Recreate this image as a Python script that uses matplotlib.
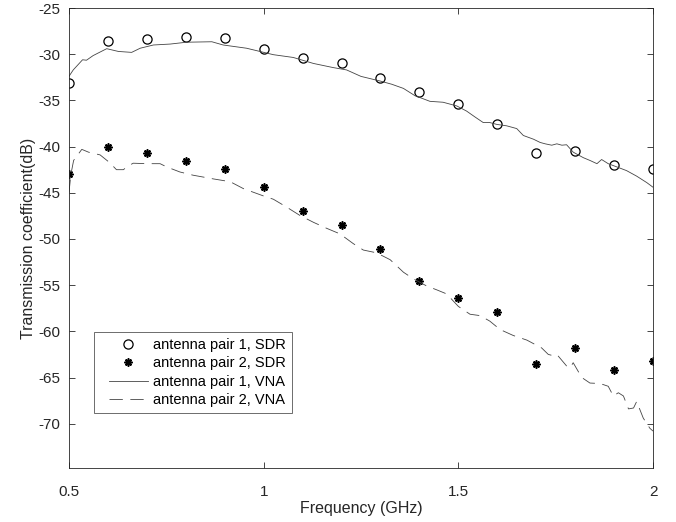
import numpy as np
import matplotlib

matplotlib.use("Agg")
import matplotlib.pyplot as plt
from matplotlib.lines import Line2D
from matplotlib.legend_handler import HandlerLine2D

plt.rcParams["font.family"] = ["Liberation Sans", "DejaVu Sans"]
plt.rcParams["font.size"] = 10.5
plt.rcParams["axes.unicode_minus"] = False

# SDR measurements (every 0.1 GHz)
f_sdr = [0.5, 0.6, 0.7, 0.8, 0.9, 1.0, 1.1, 1.2, 1.3, 1.4, 1.5, 1.6, 1.7, 1.8, 1.9, 2.0]
sdr_pair1 = [-33.1, -28.55, -28.3, -28.1, -28.2, -29.4, -30.4, -31.0,
             -32.6, -34.1, -35.4, -37.6, -40.65, -40.5, -42.0, -42.4]
sdr_pair2 = [-43.0, -40.0, -40.7, -41.55, -42.4, -44.35, -47.0, -48.5,
             -51.1, -54.5, -56.4, -57.9, -63.55, -61.85, -64.2, -63.2]

# VNA traces
f_vna1 = [0.5, 0.511, 0.535, 0.545, 0.562, 0.597, 0.627, 0.661, 0.683, 0.717,
          0.76, 0.802, 0.867, 0.896, 0.956, 1.025, 1.076, 1.128, 1.179, 1.213,
          1.25, 1.299, 1.329, 1.359, 1.389, 1.402, 1.427, 1.461, 1.496, 1.521,
          1.543, 1.564, 1.581, 1.599, 1.624, 1.65, 1.667, 1.693, 1.71, 1.723,
          1.74, 1.753, 1.766, 1.778, 1.795, 1.821, 1.838, 1.856, 1.868, 1.885,
          1.907, 1.932, 1.958, 1.984, 2.0]
vna_pair1 = [-32.4, -31.7, -30.6, -30.65, -30.15, -29.4, -29.7, -29.8, -29.35, -29.0,
             -28.9, -28.7, -28.65, -29.0, -29.35, -30.05, -30.35, -31.0, -31.45, -31.7,
             -32.4, -32.9, -33.25, -33.7, -34.5, -34.7, -35.1, -35.2, -35.6, -36.15,
             -36.8, -37.4, -37.4, -37.6, -37.75, -38.05, -38.8, -39.2, -39.55, -39.7,
             -39.85, -39.7, -39.85, -39.8, -40.6, -41.2, -41.5, -41.85, -41.4, -41.85,
             -42.2, -42.6, -43.2, -43.9, -44.4]

f_vna2 = [0.5, 0.505, 0.512, 0.533, 0.55, 0.58, 0.605, 0.622, 0.64, 0.648,
          0.665, 0.7, 0.734, 0.751, 0.785, 0.819, 0.871, 0.914, 0.948, 1.0,
          1.025, 1.059, 1.093, 1.128, 1.162, 1.196, 1.23, 1.256, 1.29, 1.325,
          1.359, 1.384, 1.419, 1.444, 1.47, 1.5, 1.53, 1.556, 1.581, 1.607,
          1.641, 1.676, 1.714, 1.731, 1.74, 1.753, 1.778, 1.787, 1.795, 1.817,
          1.838, 1.864, 1.885, 1.898, 1.911, 1.924, 1.937, 1.95, 1.958, 1.975,
          1.992, 2.0]
vna_pair2 = [-45.0, -43.0, -41.5, -40.3, -40.6, -40.9, -41.75, -42.5, -42.5, -42.2,
             -41.8, -41.85, -41.85, -42.2, -42.75, -43.1, -43.5, -43.8, -44.55, -45.35,
             -45.7, -46.55, -47.45, -48.2, -48.85, -49.45, -50.5, -51.2, -51.5, -52.25,
             -53.6, -54.3, -55.1, -55.5, -55.95, -57.3, -58.15, -58.3, -58.9, -59.8,
             -60.45, -60.95, -61.8, -62.5, -62.6, -62.5, -63.75, -63.95, -63.4, -65.0,
             -65.6, -65.65, -65.95, -67.0, -66.65, -67.0, -68.4, -68.3, -67.6, -69.4,
             -70.5, -70.8]

fig = plt.figure(figsize=(6.76, 5.22), dpi=100)
ax = fig.add_axes([0.102, 0.1034, 0.864, 0.8812])

ax.plot(f_sdr, sdr_pair1, linestyle="none", marker="o", markersize=6.6,
        markerfacecolor="none", markeredgecolor="black", markeredgewidth=0.9,
        label="antenna pair 1, SDR")
ax.plot(f_sdr, sdr_pair2, linestyle="none", marker=(8, 2, 0), markersize=5.8,
        color="black", markeredgewidth=1.2, label="antenna pair 2, SDR")
ax.plot(f_vna1, vna_pair1, color="#444444", linewidth=0.6,
        label="antenna pair 1, VNA")
ax.plot(f_vna2, vna_pair2, color="#444444", linewidth=0.6,
        dashes=(16, 9), label="antenna pair 2, VNA")

ax.set_xlim(0.5, 2.0)
ax.set_ylim(-74.8, -25)
ax.set_xticks([0.5, 1, 1.5, 2])
ax.set_xticklabels(["0.5", "1", "1.5", "2"])
ax.set_yticks(np.arange(-70, -24, 5))
ax.tick_params(direction="in", top=True, right=True, length=4, width=0.6,
               colors="#262626", labelsize=11)
ax.tick_params(axis="x", pad=12)
ax.tick_params(axis="y", pad=6)
for sp in ax.spines.values():
    sp.set_linewidth(0.6)
    sp.set_color("#262626")

ax.set_xlabel("Frequency (GHz)", fontsize=11.5, color="#262626", labelpad=2)
ax.set_ylabel("Transmission coefficient(dB)", fontsize=11.5, color="#262626",
              labelpad=2)

leg = ax.legend(loc="lower left", bbox_to_anchor=(0.043, 0.12),
                borderaxespad=0, numpoints=1, fancybox=False, framealpha=1,
                edgecolor="#555555", fontsize=10.5, handlelength=3.3,
                handletextpad=0.35, labelspacing=0.3, borderpad=0.4,
                handler_map={Line2D: HandlerLine2D(xpad=0.6)})
leg.get_frame().set_linewidth(0.6)

fig.savefig("out.png", dpi=100)
plt.close(fig)
